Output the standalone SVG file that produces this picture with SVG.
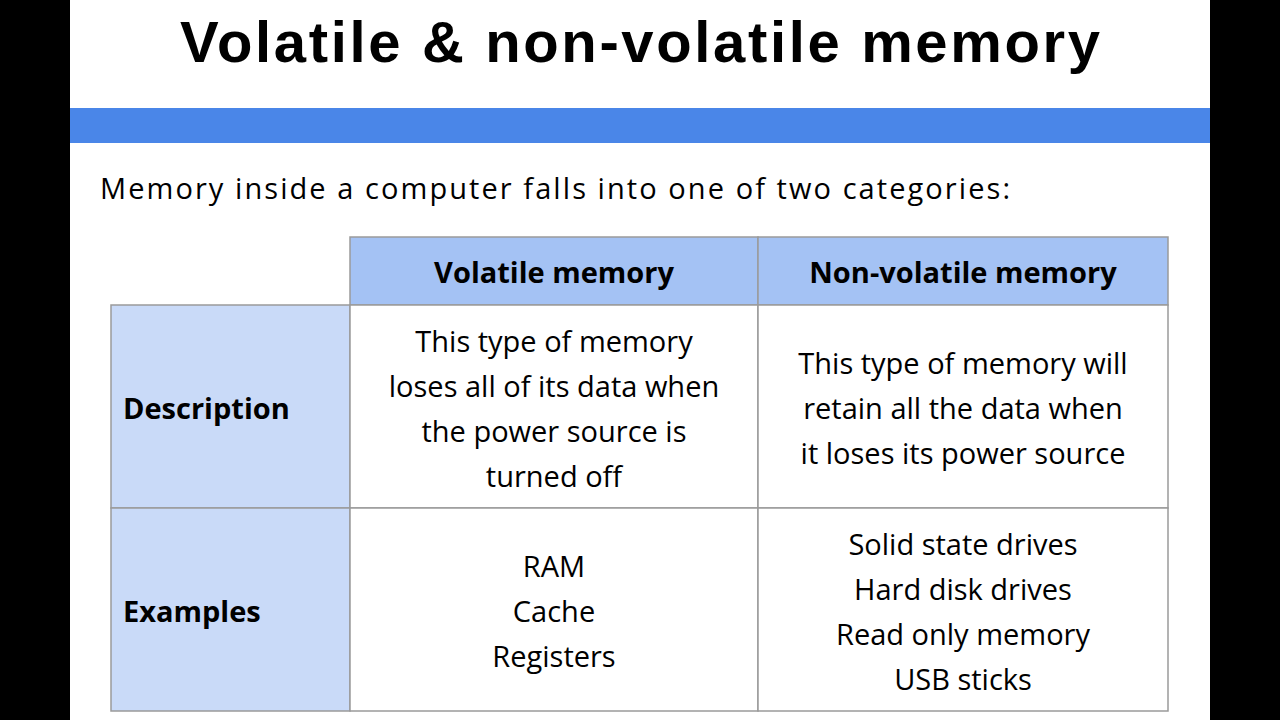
<svg xmlns="http://www.w3.org/2000/svg" width="1280" height="720" viewBox="0 0 1280 720">
<style>
.t{font-family:"Open Sans","Liberation Sans",sans-serif;font-size:29px;fill:#000}
.b{font-weight:bold}
.c{text-anchor:middle}
.cell{stroke:#9a9a9a;stroke-width:1.5}
</style>
<rect width="1280" height="720" fill="#000"/>
<rect x="70" y="0" width="1140" height="720" fill="#fff"/>
<text x="640" y="62" text-anchor="middle" font-family="Liberation Sans,Arial,sans-serif" font-weight="bold" font-size="58" textLength="920">Volatile &amp; non-volatile memory</text>
<rect x="70" y="108" width="1140" height="35" fill="#4a86e8"/>
<text class="t" x="100" y="199" textLength="910">Memory inside a computer falls into one of two categories:</text>
<g id="header">
<rect class="cell" x="350" y="237" width="408" height="68" fill="#a4c2f4"/>
<rect class="cell" x="758" y="237" width="410" height="68" fill="#a4c2f4"/>
<text class="t b c" x="554" y="283">Volatile memory</text>
<text class="t b c" x="963" y="283">Non-volatile memory</text>
</g>
<g id="description">
<rect class="cell" x="111" y="305" width="239" height="203" fill="#c9daf8"/>
<rect class="cell" x="350" y="305" width="408" height="203" fill="#fff"/>
<rect class="cell" x="758" y="305" width="410" height="203" fill="#fff"/>
<text class="t b" x="123" y="419">Description</text>
<text class="t c" x="554" y="352">This type of memory<tspan x="554" dy="45">loses all of its data when</tspan><tspan x="554" dy="45">the power source is</tspan><tspan x="554" dy="45">turned off</tspan></text>
<text class="t c" x="963" y="374">This type of memory will<tspan x="963" dy="45">retain all the data when</tspan><tspan x="963" dy="45">it loses its power source</tspan></text>
</g>
<g id="examples">
<rect class="cell" x="111" y="508" width="239" height="203" fill="#c9daf8"/>
<rect class="cell" x="350" y="508" width="408" height="203" fill="#fff"/>
<rect class="cell" x="758" y="508" width="410" height="203" fill="#fff"/>
<text class="t b" x="123" y="622">Examples</text>
<text class="t c" x="554" y="577">RAM<tspan x="554" dy="45">Cache</tspan><tspan x="554" dy="45">Registers</tspan></text>
<text class="t c" x="963" y="555">Solid state drives<tspan x="963" dy="45">Hard disk drives</tspan><tspan x="963" dy="45">Read only memory</tspan><tspan x="963" dy="45">USB sticks</tspan></text>
</g>
</svg>
